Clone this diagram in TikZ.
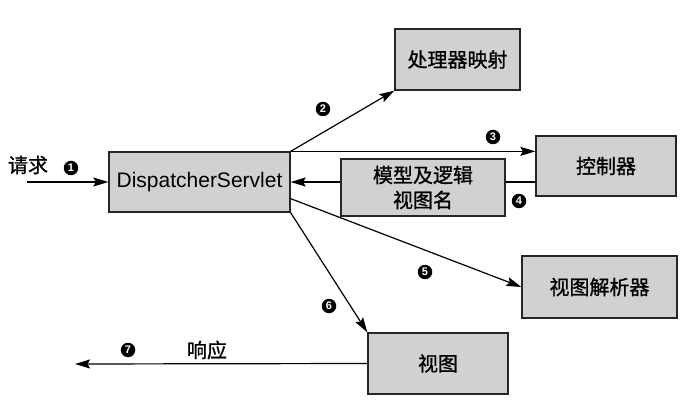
\documentclass[tikz,border=0pt]{standalone}
\usepackage{fontspec}
\setmainfont{Liberation Sans}
\newfontfamily\cjk[BoldFont={Noto Sans CJK SC}, BoldFeatures={FakeBold=1}]{Noto Sans CJK SC}
\usetikzlibrary{arrows.meta,calc}

\tikzset{
    box/.style={draw=black!85, fill=black!18, line width=1.3pt, inner sep=0pt,
        font=\cjk\bfseries\fontsize{20}{25}\selectfont, align=center},
    num/.style={circle, fill=black, text=white, inner sep=0pt, minimum size=14.5pt,
        font=\bfseries\fontsize{11}{11}\selectfont},
    lbl/.style={font=\cjk\bfseries\fontsize{20}{25}\selectfont},
    flow/.style={line width=1.2pt, -{Stealth[length=15pt,width=9pt,inset=2.5pt]}}
}

\begin{document}
\begin{tikzpicture}[x=1pt, y=-1pt]
            \useasboundingbox (0, 0) rectangle (696, 406);

            % boxes
            \node[box, minimum width=181pt, minimum height=60pt, font=\mdseries\fontsize{21}{25}\selectfont] (ds) at (199.5, 182) {DispatcherServlet};
            \node[box, minimum width=125pt, minimum height=61pt] (hm) at (457.5, 59.5) {处理器映射};
            \node[box, minimum width=140pt, minimum height=60pt] (ctrl) at (606, 166) {控制器};
            \node[box, minimum width=164pt, minimum height=57pt] (mv) at (423, 187.5) {模型及逻辑\\视图名};
            \node[box, minimum width=155pt, minimum height=62pt] (vr) at (599.5, 287) {视图解析器};
            \node[box, minimum width=140pt, minimum height=61pt] (view) at (438, 363.5) {视图};

            \coordinate (in) at (27, 182);
            \coordinate (out) at (75, 364);

            % connectors
            \draw[flow] (in) -- (ds.west);
            \draw[flow] (ds.north east) -- (hm.south west);
            \draw[flow] (ds.north east) -- (ds.north east -| ctrl.west);
            \draw[line width=1.2pt] (ds.east -| ctrl.west) -- (ds.east -| mv.east);
            \draw[flow] (ds.east -| mv.west) -- (ds.east);
            \draw[flow] ([yshift=14pt]ds.south east) -- (vr.west);
            \draw[flow] (ds.south east) -- (view.north west);
            \draw[flow] (view.west) -- (out);

            % labels
            \node[lbl] (req) at (28, 165) {请求};
            \node[lbl] (resp) at (207, 350) {响应};
            \node[num] (n1) at (71, 168) {1};
            \node[num] (n2) at (323, 109) {2};
            \node[num] (n3) at (493, 137) {3};
            \node[num] (n4) at (519, 201) {4};
            \node[num] (n5) at (425, 272) {5};
            \node[num] (n6) at (329, 306) {6};
            \node[num] (n7) at (128, 350) {7};
\end{tikzpicture}
\end{document}
